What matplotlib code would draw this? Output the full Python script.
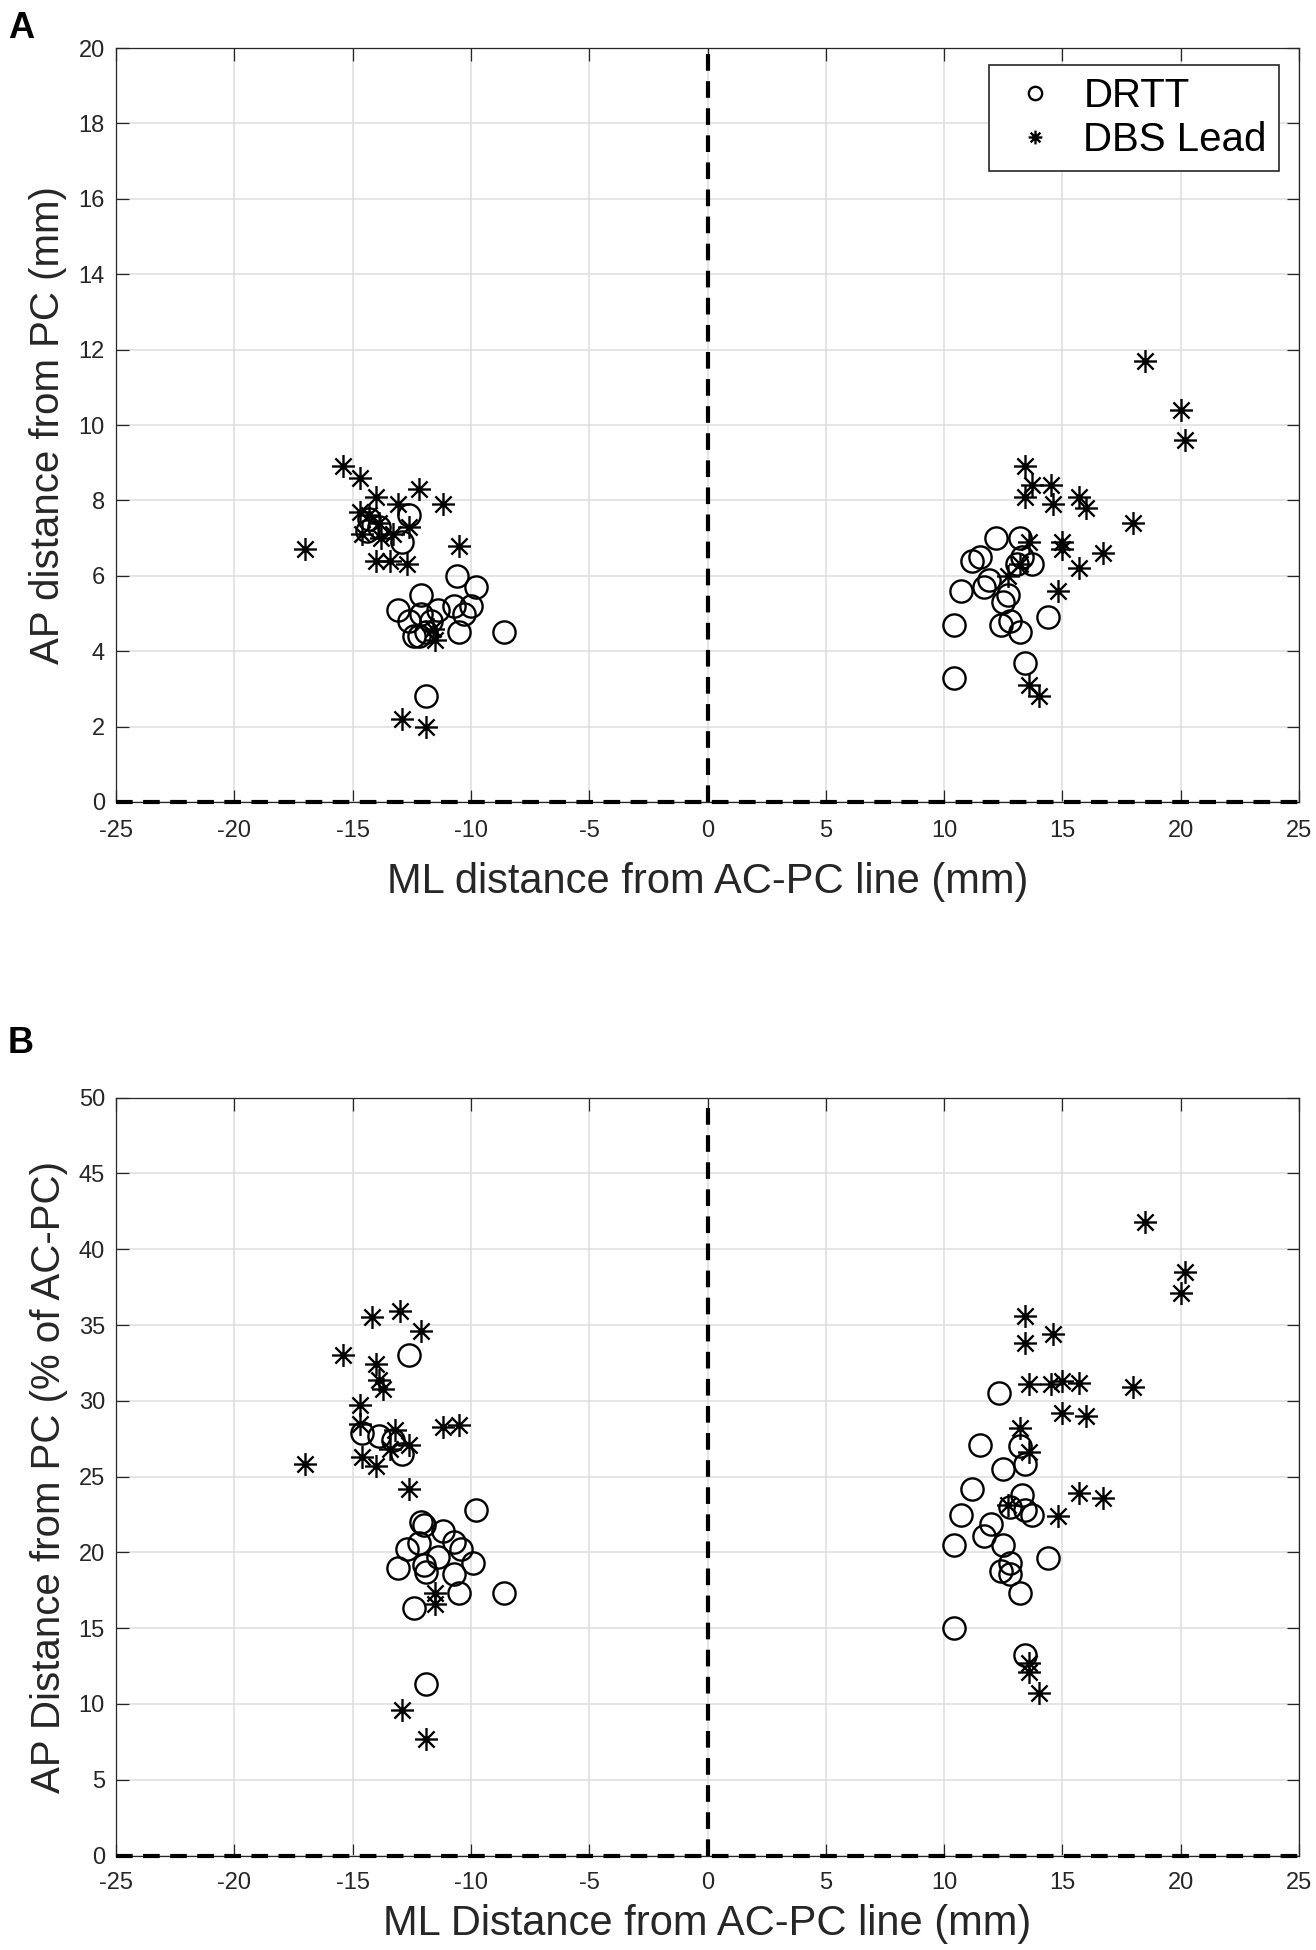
import numpy as np
import matplotlib
matplotlib.use("Agg")
import matplotlib.pyplot as plt
from matplotlib.path import Path

plt.rcParams['font.family'] = ['Liberation Sans', 'DejaVu Sans']
plt.rcParams['axes.unicode_minus'] = False  # plain hyphen like MATLAB

# Panel A: distances in mm
a_drtt_x = [-12.6, -14.3, -14.4, -13.9, -12.9, -10.6, -9.8, -12.1, -13.1, -11.4, -10.7,
            -10.0, -10.3, -12.6, -12.1, -11.7, -12.4, -12.2, -11.9, -10.5, -8.6, -11.9,
            12.2, 13.2, 11.5, 11.2, 13.3, 13.1, 13.7, 11.9, 11.7, 10.7, 12.7, 12.5,
            14.4, 12.4, 12.8, 13.2, 10.4, 13.4, 10.4]
a_drtt_y = [7.6, 7.5, 7.2, 7.3, 6.9, 6.0, 5.7, 5.5, 5.1, 5.1, 5.2,
            5.2, 5.0, 4.8, 5.0, 4.8, 4.4, 4.4, 4.5, 4.5, 4.5, 2.8,
            7.0, 7.0, 6.5, 6.4, 6.5, 6.3, 6.3, 5.9, 5.7, 5.6, 5.5, 5.3,
            4.9, 4.7, 4.8, 4.5, 4.7, 3.7, 3.3]
a_lead_x = [-15.4, -14.7, -14.0, -13.1, -12.2, -11.2, -14.7, -14.3, -13.9, -12.6, -14.6,
            -13.8, -13.3, -17.0, -10.5, -14.0, -13.4, -12.7, -11.5, -11.6, -12.9, -11.9,
            18.5, 20.0, 20.2, 13.4, 13.7, 14.5, 13.4, 14.6, 15.7, 16.0, 18.0, 13.6,
            15.0, 15.0, 16.7, 15.7, 12.7, 13.2, 14.8, 13.6, 14.0]
a_lead_y = [8.9, 8.6, 8.1, 7.9, 8.3, 7.9, 7.7, 7.6, 7.4, 7.3, 7.1,
            7.0, 7.1, 6.7, 6.8, 6.4, 6.4, 6.3, 4.3, 4.6, 2.2, 2.0,
            11.7, 10.4, 9.6, 8.9, 8.4, 8.4, 8.1, 7.9, 8.1, 7.8, 7.4, 6.9,
            6.9, 6.7, 6.6, 6.2, 6.0, 6.3, 5.6, 3.1, 2.8]

# Panel B: AP distance as % of AC-PC
b_drtt_x = [-12.6, -14.6, -13.9, -13.3, -12.9, -9.8, -12.1, -12.0, -11.2, -10.7, -10.4,
            -9.9, -12.7, -12.2, -13.1, -11.4, -10.7, -12.0, -11.9, -10.5, -8.6, -12.4, -11.9,
            12.3, 11.5, 13.2, 12.5, 13.4, 11.2, 13.3, 12.8, 13.7, 13.4, 10.7, 12.0,
            11.7, 10.4, 12.5, 14.4, 12.8, 12.4, 12.8, 13.2, 10.4, 13.4]
b_drtt_y = [33.0, 27.9, 27.7, 27.4, 26.5, 22.8, 22.0, 21.8, 21.4, 20.7, 20.2,
            19.3, 20.2, 20.6, 19.0, 19.7, 18.6, 19.2, 18.7, 17.3, 17.3, 16.3, 11.3,
            30.5, 27.1, 27.0, 25.5, 25.8, 24.2, 23.8, 23.0, 22.5, 22.8, 22.5, 21.9,
            21.1, 20.5, 20.5, 19.6, 19.3, 18.8, 18.6, 17.3, 15.0, 13.2]
b_lead_x = [-14.2, -13.0, -12.1, -15.4, -14.0, -13.9, -13.7, -14.7, -14.7, -13.2, -11.2,
            -10.5, -12.6, -13.4, -14.6, -14.0, -17.0, -12.6, -11.5, -11.5, -12.9, -11.9,
            18.5, 20.2, 20.0, 13.4, 13.4, 14.6, 13.6, 14.5, 15.0, 15.7, 18.0, 15.0,
            16.0, 13.2, 13.6, 12.7, 15.7, 16.7, 14.8, 13.6, 13.6, 14.0]
b_lead_y = [35.5, 35.9, 34.6, 33.0, 32.4, 31.4, 30.8, 29.7, 28.5, 28.1, 28.3,
            28.4, 27.1, 26.8, 26.3, 25.7, 25.8, 24.2, 17.3, 16.6, 9.6, 7.7,
            41.8, 38.5, 37.1, 35.6, 33.8, 34.4, 31.1, 31.1, 31.3, 31.2, 30.9, 29.2,
            29.0, 28.2, 26.6, 23.1, 23.9, 23.6, 22.4, 12.7, 12.1, 10.7]

# MATLAB style asterisk: plus + cross
d = 0.7071
star = Path([(-1, 0), (1, 0), (0, -1), (0, 1), (-d, -d), (d, d), (-d, d), (d, -d)],
            [Path.MOVETO, Path.LINETO] * 4)

dark = '#262626'

fig = plt.figure(figsize=(13.16, 19.5), dpi=100)
axA = fig.add_axes([116 / 1316, 1 - 802 / 1950, 1183 / 1316, 754 / 1950])
axB = fig.add_axes([116 / 1316, 1 - 1855.6 / 1950, 1183 / 1316, 758 / 1950])


def style(ax, ymax, ystep, xpad):
    ax.set_xlim(-25, 25)
    ax.set_ylim(0, ymax)
    ax.set_xticks(np.arange(-25, 26, 5))
    ax.set_yticks(np.arange(0, ymax + 1, ystep))
    ax.grid(True, color='#dedede', lw=1.1)
    ax.set_axisbelow(True)
    ax.tick_params(direction='in', length=9, width=0.9, top=True, right=True,
                   labelsize=17, colors=dark, pad=8)
    ax.tick_params(axis='x', pad=xpad)
    for s in ax.spines.values():
        s.set_color(dark)
        s.set_linewidth(0.9)
    # dashed reference lines
    ax.axvline(0, color='black', lw=3, ls=(0, (4, 2.5)), zorder=3)
    ax.axhline(0, color='black', lw=3, ls=(0, (4, 2.5)), zorder=3, clip_on=False)


for ax, dx, dy, lx, ly in [(axA, a_drtt_x, a_drtt_y, a_lead_x, a_lead_y),
                           (axB, b_drtt_x, b_drtt_y, b_lead_x, b_lead_y)]:
    ax.plot(dx, dy, ls='none', marker='o', ms=16, mfc='none', mec='black', mew=1.7,
            label='DRTT', zorder=4)
    ax.plot(lx, ly, ls='none', marker=star, ms=16.5, mfc='none', mec='black', mew=1.7,
            label='DBS Lead', zorder=4)

style(axA, 20, 2, 13)
style(axB, 50, 5, 12)

axA.set_xlabel('ML distance from AC-PC line (mm)', fontsize=30, color=dark, labelpad=14)
axA.set_ylabel('AP distance from PC (mm)', fontsize=29, color=dark, labelpad=8)
axB.set_xlabel('ML Distance from AC-PC line (mm)', fontsize=30, color=dark, labelpad=7)
axB.set_ylabel('AP Distance from PC (% of AC-PC)', fontsize=29, color=dark, labelpad=8)

leg = axA.legend(loc='upper right', bbox_to_anchor=(0.983, 0.9775), borderaxespad=0,
                 fontsize=29, markerscale=0.6, fancybox=False, framealpha=1,
                 edgecolor=dark, borderpad=0.3, handlelength=1.7, handletextpad=0.35,
                 labelspacing=0.15)
leg.get_frame().set_linewidth(1.2)

fig.text(8 / 1316, 1 - 38 / 1950, 'A', fontsize=26, fontweight='bold')
fig.text(8 / 1316, 1 - 1053 / 1950, 'B', fontsize=26, fontweight='bold')

fig.savefig('out.png', dpi=100)
